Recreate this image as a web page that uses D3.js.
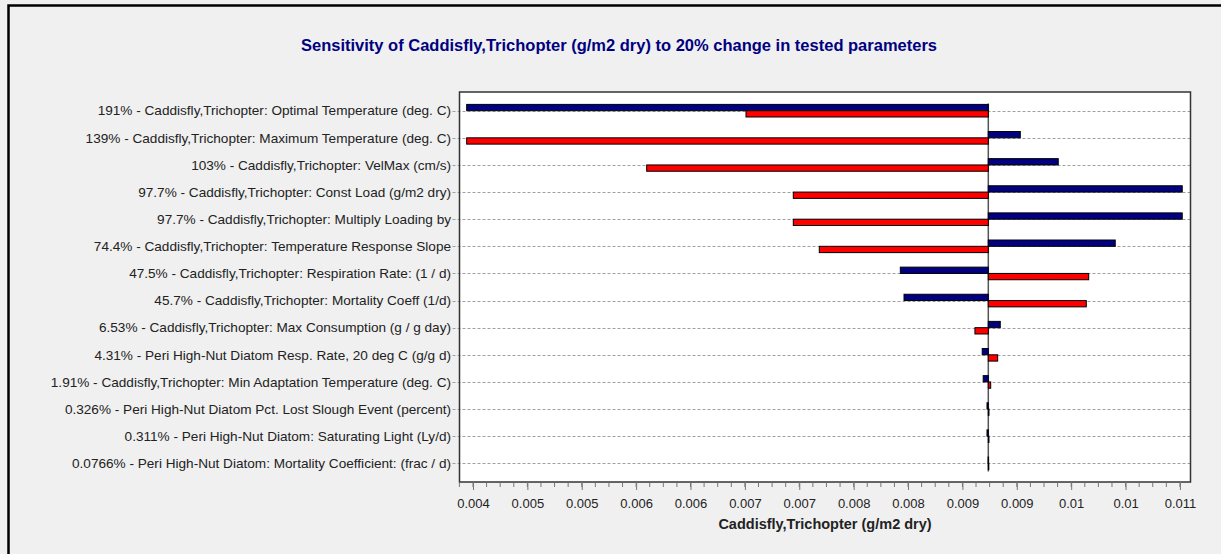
<!DOCTYPE html>
<meta charset="utf-8">
<style>
body {
  margin: 0;
  background: #f0f0f0;
}
svg {
  display: block;
  font-family: "Liberation Sans", Arial, sans-serif;
}
.grid line {
  stroke: #a0a0a0;
  stroke-dasharray: 3,2;
}
.bar {
  stroke: #000;
  stroke-width: 1;
}
.label {
  font-size: 13.6px;
  fill: #222;
}
</style>
<svg width="1221" height="554"></svg>
<script src="https://d3js.org/d3.v7.min.js"></script>
<script>

// parameters, in the order they are drawn (top to bottom)
var labels = [
  "191% - Caddisfly,Trichopter: Optimal Temperature (deg. C)",
  "139% - Caddisfly,Trichopter: Maximum Temperature (deg. C)",
  "103% - Caddisfly,Trichopter: VelMax (cm/s)",
  "97.7% - Caddisfly,Trichopter: Const Load (g/m2 dry)",
  "97.7% - Caddisfly,Trichopter: Multiply Loading by",
  "74.4% - Caddisfly,Trichopter: Temperature Response Slope",
  "47.5% - Caddisfly,Trichopter: Respiration Rate: (1 / d)",
  "45.7% - Caddisfly,Trichopter: Mortality Coeff (1/d)",
  "6.53% - Caddisfly,Trichopter: Max Consumption (g / g day)",
  "4.31% - Peri High-Nut Diatom Resp. Rate, 20 deg C (g/g d)",
  "1.91% - Caddisfly,Trichopter: Min Adaptation Temperature (deg. C)",
  "0.326% - Peri High-Nut Diatom Pct. Lost Slough Event (percent) ",
  "0.311% - Peri High-Nut Diatom: Saturating Light (Ly/d)",
  "0.0766% - Peri High-Nut Diatom: Mortality Coefficient: (frac / d)"
];

// result with parameter +20% (blue) and -20% (red)
var plusValues = [0.003942, 0.009032, 0.009381, 0.010521, 0.010521, 0.009905, 0.007929,
                  0.007963, 0.008848, 0.008682, 0.008691, 0.008726, 0.008726, 0.008736];
var minusValues = [0.006510, 0.003942, 0.005597, 0.006945, 0.006945, 0.007184, 0.009661,
                   0.009639, 0.008615, 0.008824, 0.008760, 0.008744, 0.008744, 0.008740];
var baseValue = 0.008738;

var tickValues = [0.004, 0.0045, 0.005, 0.0055, 0.006, 0.0065, 0.007,
                  0.0075, 0.008, 0.0085, 0.009, 0.0095, 0.01, 0.0105];
var tickLabels = ["0.004", "0.005", "0.005", "0.006", "0.006", "0.007", "0.007",
                  "0.008", "0.008", "0.009", "0.009", "0.01", "0.01", "0.011"];

var svg = d3.select("svg"),
    width = +svg.attr("width"),
    height = +svg.attr("height");

var plot = {left: 459.5, right: 1190.5, top: 92, bottom: 482};

// outer frame
svg.append("rect")
    .attr("x", 8.5).attr("y", 5.5)
    .attr("width", 1400).attr("height", 700)
    .attr("fill", "#f0f0f0")
    .attr("stroke", "#000")
    .attr("stroke-width", 2.5);

svg.append("text")
    .attr("x", 619)
    .attr("y", 51)
    .attr("text-anchor", "middle")
    .attr("font-size", "16.5px")
    .attr("font-weight", "bold")
    .attr("fill", "#000080")
    .text("Sensitivity of Caddisfly,Trichopter (g/m2 dry) to 20% change in tested parameters");

var x = d3.scaleLinear()
    .domain([0.003876, 0.010597])
    .range([plot.left, plot.right]);

var y = d3.scalePoint()
    .domain(labels)
    .range([110.7, 463.3]);

var barH = 6.3;

svg.append("rect")
    .attr("x", plot.left).attr("y", plot.top)
    .attr("width", plot.right - plot.left)
    .attr("height", plot.bottom - plot.top)
    .attr("fill", "#fff");

// dashed row lines, starting just outside the plot as label ticks
svg.append("g")
    .attr("class", "grid")
  .selectAll("line")
    .data(labels)
  .enter().append("line")
    .attr("x1", 452.5)
    .attr("x2", plot.right)
    .attr("y1", function(d) { return Math.round(y(d)) + 0.5; })
    .attr("y2", function(d) { return Math.round(y(d)) + 0.5; });

svg.append("g")
  .selectAll("text")
    .data(labels)
  .enter().append("text")
    .attr("class", "label")
    .attr("x", 451)
    .attr("y", function(d) { return y(d); })
    .attr("dy", "0.35em")
    .attr("text-anchor", "end")
    .text(function(d) { return d; });

// vertical line at the base value
svg.append("line")
    .attr("x1", x(baseValue)).attr("x2", x(baseValue))
    .attr("y1", y(labels[0]) - barH - 1)
    .attr("y2", y(labels[labels.length - 1]) + barH + 2)
    .attr("stroke", "#555")
    .attr("stroke-width", 1.5);

var bars = svg.append("g");

bars.selectAll("rect.plus")
    .data(plusValues)
  .enter().append("rect")
    .attr("class", "bar plus")
    .attr("fill", "#000080")
    .attr("x", function(d) { return Math.min(x(d), x(baseValue)); })
    .attr("width", function(d) { return Math.max(0.5, Math.abs(x(d) - x(baseValue))); })
    .attr("y", function(d, i) { return y(labels[i]) - barH; })
    .attr("height", barH);

bars.selectAll("rect.minus")
    .data(minusValues)
  .enter().append("rect")
    .attr("class", "bar minus")
    .attr("fill", "#ff0000")
    .attr("x", function(d) { return Math.min(x(d), x(baseValue)); })
    .attr("width", function(d) { return Math.max(0.5, Math.abs(x(d) - x(baseValue))); })
    .attr("y", function(d, i) { return y(labels[i]); })
    .attr("height", barH);

// plot border
svg.append("rect")
    .attr("x", plot.left).attr("y", plot.top)
    .attr("width", plot.right - plot.left)
    .attr("height", plot.bottom - plot.top)
    .attr("fill", "none")
    .attr("stroke", "#333")
    .attr("stroke-width", 1.5);

// x axis with minor ticks
var minor = d3.range(0.003875, 0.0106, 0.000125);

svg.append("g")
    .attr("transform", "translate(0," + plot.bottom + ")")
  .selectAll("line")
    .data(minor)
  .enter().append("line")
    .attr("x1", function(d) { return x(d); })
    .attr("x2", function(d) { return x(d); })
    .attr("y1", 1)
    .attr("y2", 5)
    .attr("stroke", "#777");

var xAxis = svg.append("g")
    .attr("transform", "translate(0," + plot.bottom + ")")
    .call(d3.axisBottom(x)
      .tickValues(tickValues)
      .tickSize(8)
      .tickPadding(9)
      .tickFormat(function(d, i) { return tickLabels[i]; }));

xAxis.select(".domain").remove();
xAxis.selectAll(".tick line").attr("stroke", "#777");
xAxis.selectAll(".tick text")
    .attr("font-size", "13px")
    .attr("font-family", "\"Liberation Sans\", Arial, sans-serif")
    .attr("fill", "#222");

svg.append("text")
    .attr("x", (plot.left + plot.right) / 2)
    .attr("y", 529)
    .attr("text-anchor", "middle")
    .attr("font-size", "14.5px")
    .attr("font-weight", "bold")
    .attr("fill", "#222")
    .text("Caddisfly,Trichopter (g/m2 dry)");

</script>
